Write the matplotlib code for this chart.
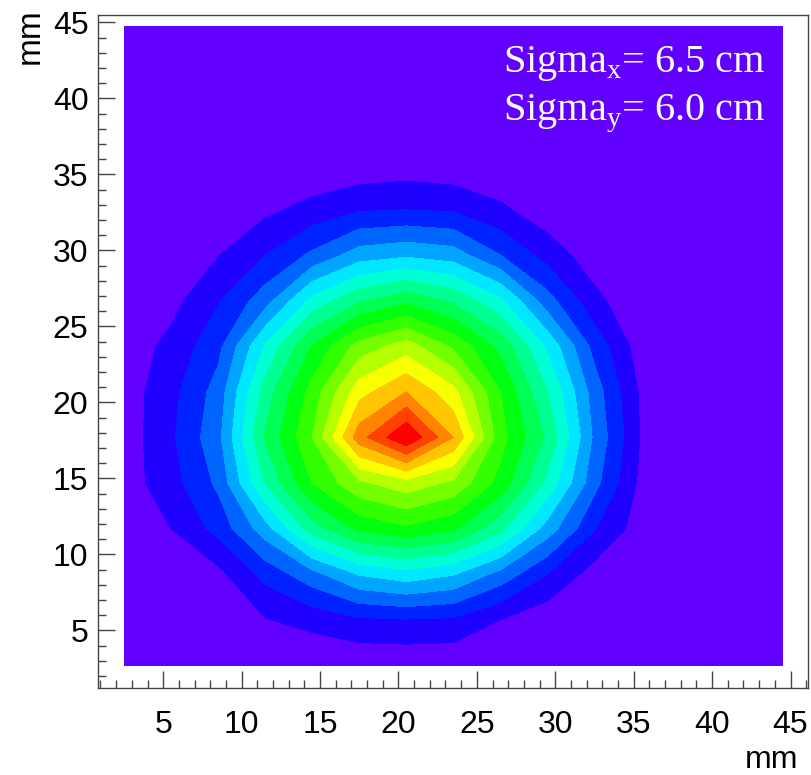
import numpy as np
import matplotlib
matplotlib.use('Agg')
from matplotlib import pyplot as plt
from matplotlib.colors import ListedColormap, BoundaryNorm, hsv_to_rgb
from matplotlib.ticker import MultipleLocator

# bin centres (mm)
x_centres = [2.5, 5.5, 8.5, 11.5, 14.5, 17.5, 20.5, 23.5, 26.5, 29.5, 32.5, 35.5, 38.5, 41.5, 44.5]
y_centres = [2.7, 5.7, 8.7, 11.7, 14.7, 17.7, 20.7, 23.7, 26.7, 29.7, 32.7, 35.7, 38.7, 41.7, 44.7]

# beam intensity per bin, one row per y centre (bottom -> top)
beam_map = [
    [0.02, 0.02, 0.03, 0.06, 0.10, 0.15, 0.17, 0.15, 0.10, 0.06, 0.03, 0.02, 0.01, 0.01, 0.00],
    [0.02, 0.05, 0.15, 0.95, 1.35, 1.85, 1.95, 1.85, 1.00, 0.30, 0.05, 0.02, 0.01, 0.00, 0.00],
    [0.02, 0.05, 0.70, 2.32, 3.65, 5.07, 5.60, 5.07, 3.66, 2.00, 0.55, 0.10, 0.03, 0.01, 0.00],
    [0.15, 1.00, 2.34, 4.55, 7.52, 9.27, 9.80, 9.20, 7.32, 4.55, 2.08, 0.45, 0.10, 0.03, 0.01],
    [0.50, 1.60, 3.21, 7.05, 10.0, 11.8, 12.6, 11.8, 9.64, 6.73, 3.33, 0.72, 0.10, 0.03, 0.01],
    [0.42, 1.83, 3.70, 8.10, 11.0, 15.6, 18.0, 15.0, 10.4, 7.80, 3.80, 0.90, 0.30, 0.10, 0.05],
    [0.45, 1.68, 3.41, 7.43, 10.4, 13.6, 15.0, 13.3, 10.0, 7.04, 3.51, 0.80, 0.10, 0.03, 0.01],
    [0.40, 1.28, 2.70, 6.08, 9.08, 11.4, 12.5, 10.8, 8.69, 5.78, 2.65, 0.45, 0.05, 0.02, 0.01],
    [0.15, 0.65, 1.91, 3.54, 6.29, 7.84, 8.75, 7.81, 6.18, 3.40, 1.30, 0.10, 0.03, 0.01, 0.00],
    [0.02, 0.05, 0.95, 1.99, 3.19, 4.48, 4.80, 4.48, 3.00, 1.60, 0.40, 0.05, 0.02, 0.01, 0.00],
    [0.01, 0.03, 0.10, 0.75, 1.34, 1.88, 1.97, 1.85, 1.19, 0.35, 0.05, 0.02, 0.01, 0.00, 0.00],
    [0.00, 0.01, 0.03, 0.05, 0.10, 0.25, 0.40, 0.25, 0.08, 0.03, 0.01, 0.00, 0.00, 0.00, 0.00],
    [0.00, 0.00, 0.01, 0.02, 0.03, 0.05, 0.06, 0.05, 0.03, 0.02, 0.01, 0.00, 0.00, 0.00, 0.00],
    [0.00, 0.00, 0.00, 0.01, 0.01, 0.02, 0.02, 0.02, 0.01, 0.01, 0.00, 0.00, 0.00, 0.00, 0.00],
    [0.00, 0.00, 0.00, 0.00, 0.00, 0.00, 0.00, 0.00, 0.00, 0.00, 0.00, 0.00, 0.00, 0.00, 0.00],
]

sigma_lines = [('x', '6.5'), ('y', '6.0')]

# root-like rainbow palette, violet -> red
n_levels = 18
hues = np.linspace(263, 0, n_levels) / 360.0
hsv = np.stack([hues, np.ones(n_levels), np.ones(n_levels)], axis=1)
cmap = ListedColormap(hsv_to_rgb(hsv))
levels = np.arange(0, n_levels + 1)
norm = BoundaryNorm(levels, cmap.N)

plt.rcParams['font.family'] = 'Liberation Sans'
plt.rcParams['mathtext.fontset'] = 'custom'
plt.rcParams['mathtext.rm'] = 'Liberation Serif'

fig = plt.figure(figsize=(8.11, 7.75), dpi=100)
ax = fig.add_axes([0.121, 0.112, 0.875, 0.869])

X, Y = np.meshgrid(x_centres, y_centres)
Z = np.array(beam_map)
ax.contourf(X, Y, Z, levels=levels, cmap=cmap, norm=norm)

ax.set_xlim(0.85, 46.1)
ax.set_ylim(1.2, 45.5)

ax.xaxis.set_major_locator(MultipleLocator(5))
ax.xaxis.set_minor_locator(MultipleLocator(1))
ax.yaxis.set_major_locator(MultipleLocator(5))
ax.yaxis.set_minor_locator(MultipleLocator(1))
ax.tick_params(which='both', direction='in', top=False, right=False, color='#444444', width=1)
ax.tick_params(which='major', length=12, labelsize=23)
ax.tick_params(axis='x', which='major', pad=16)
ax.tick_params(axis='y', which='major', pad=7)
ax.tick_params(which='minor', length=6)
for s in ax.spines.values():
    s.set_color('#444444')
    s.set_linewidth(1)

fig.text(772 / 811, 1 - 768 / 775, 'mm', fontsize=23, ha='center', va='baseline')
fig.text(30 / 811, 1 - 36 / 775, 'mm', fontsize=24, ha='center', va='center', rotation=90)

for k, (axis_name, val) in enumerate(sigma_lines):
    fig.text(765 / 811, 1 - (72 + 48 * k) / 775,
             'Sigma$_{\\mathrm{%s}}$= %s cm' % (axis_name, val),
             family='Liberation Serif', fontsize=29, color='white',
             ha='right', va='baseline')

fig.savefig('out.png', dpi=100)
